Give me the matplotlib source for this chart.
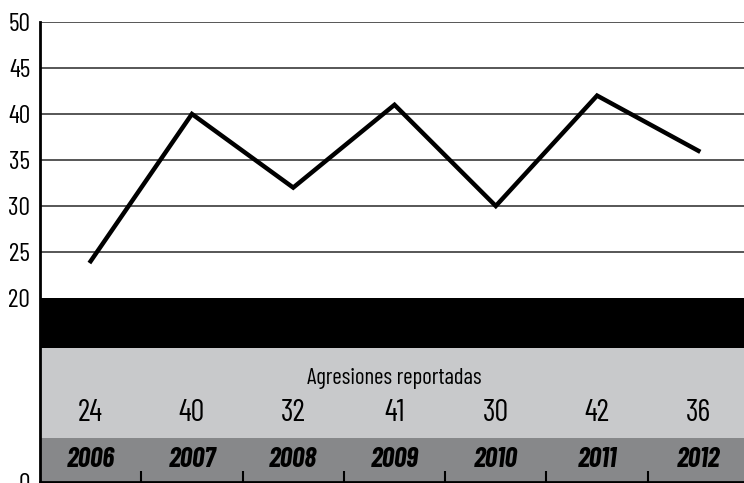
import matplotlib
matplotlib.use("Agg")
import matplotlib.pyplot as plt

years = ["2006", "2007", "2008", "2009", "2010", "2011", "2012"]
agresiones = [24, 40, 32, 41, 30, 42, 36]
row_label = "Agresiones reportadas"
yticks = [0, 20, 25, 30, 35, 40, 45, 50]

plt.rcParams["font.family"] = ["Barlow Condensed", "Roboto Condensed", "DejaVu Sans"]

fig = plt.figure(figsize=(7.44, 4.83), dpi=100)
ax = fig.add_axes([40 / 744, 1 / 483, 709 / 744, 460 / 483])

x = list(range(len(years)))
ax.set_xlim(-0.5, len(years) - 0.5)
ax.set_ylim(0, 50)

# table bands
ax.axhspan(0, 4.8, color="#87888a", zorder=1, lw=0)
ax.axhspan(4.8, 14.6, color="#c8c9cb", zorder=1, lw=0)
ax.axhspan(14.6, 20, color="black", zorder=1, lw=0)

for g in [25, 30, 35, 40, 45, 50]:
    ax.axhline(g, color="#3a3a3a", lw=1.2, zorder=2)

ax.plot(x, agresiones, color="black", lw=3.2, zorder=3, solid_joinstyle="miter")

ax.text(3, 11.3, row_label, ha="center", va="center", fontsize=16.5, zorder=4)
for xi, v, yr in zip(x, agresiones, years):
    ax.text(xi, 7.5, str(v), ha="center", va="center", fontsize=22, zorder=4)
    ax.text(xi, 2.4, yr, ha="center", va="center", fontsize=20,
            fontweight="bold", fontstyle="italic", zorder=4)

ax.set_yticks(yticks)
ax.set_yticklabels([str(t) for t in yticks], fontsize=18.5)
ax.tick_params(axis="y", length=0, pad=7)

ax.set_xticks([i + 0.5 for i in range(len(years) - 1)])
ax.set_xticklabels([])
ax.tick_params(axis="x", direction="in", length=8, width=1.5, color="black")

for s in ["top", "right"]:
    ax.spines[s].set_visible(False)
ax.spines["left"].set_linewidth(2)
ax.spines["bottom"].set_linewidth(2)
ax.spines["left"].set_zorder(5)

fig.savefig("out.png", dpi=100)
